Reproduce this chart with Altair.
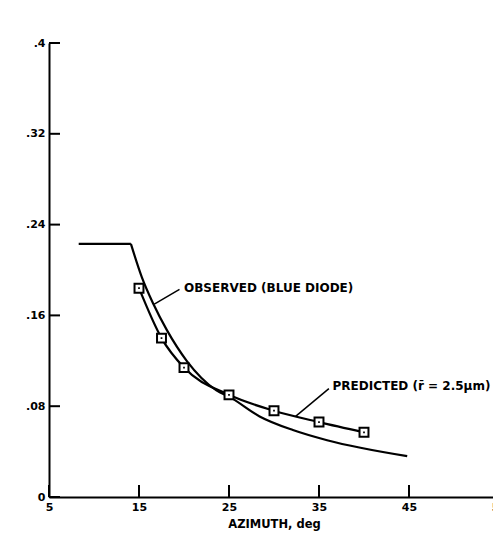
import altair as alt
import pandas as pd

# Observed (squares)
obs_x = [15, 17.5, 20, 25, 30, 35, 40]
obs_y = [0.184, 0.140, 0.114, 0.090, 0.076, 0.066, 0.057]

# Predicted curve
pred_flat_x = [8.3, 14.1]
pred_flat_y = [0.223, 0.223]
pred_x = [14.1, 15.3, 16.6, 18.1, 20.3, 23.6, 25.1, 28.4, 32.1, 35.9, 44.8]
pred_y = [0.223, 0.194, 0.170, 0.147, 0.120, 0.094, 0.088, 0.071, 0.059, 0.050, 0.036]

x_ticks = [5, 15, 25, 35, 45, 55]
y_ticks = [0, 0.08, 0.16, 0.24, 0.32, 0.4]

labels = ["OBSERVED (BLUE DIODE)", "PREDICTED (r\u0304 = 2.5\u03bcm)"]
label_x = [20.0, 36.5]
label_y = [0.184, 0.098]
leader_x = [16.7, 32.4]
leader_x2 = [19.5, 36.1]
leader_y = [0.170, 0.071]
leader_y2 = [0.183, 0.0955]

XR = 450          # pixel length of the 5..55 x range
W, H = 444, 454   # visible plot area (x range runs past the right edge, as in the scan)
FONT = "DejaVu Sans"

obs = pd.DataFrame({"x": obs_x, "y": obs_y})
pred = pd.DataFrame({
    "x": pred_flat_x + pred_x,
    "y": pred_flat_y + pred_y,
    "g": ["flat"] * len(pred_flat_x) + ["curve"] * len(pred_x),
})
lab = pd.DataFrame({"x": label_x, "y": label_y, "t": labels})
lead = pd.DataFrame({"x": leader_x, "x2": leader_x2, "y": leader_y, "y2": leader_y2})
xt = pd.DataFrame({"v": x_ticks})
yt = pd.DataFrame({"v": y_ticks})

xs = alt.Scale(domain=[5, 55], range=[0, XR], nice=False, zero=False)
ys = alt.Scale(domain=[0, 0.4], nice=False)

xax = alt.Axis(values=x_ticks, ticks=False, grid=False, domainColor="black", domainWidth=2,
               labelFont=FONT, labelFontWeight="bold", labelFontSize=11, labelColor="black",
               labelPadding=4, title="AZIMUTH, deg", titleFont=FONT, titleFontWeight="bold",
               titleFontSize=11.5, titleColor="black", titlePadding=6, labelFlush=False)
yax = alt.Axis(values=y_ticks, ticks=False, grid=False, domainColor="black", domainWidth=2,
               labelFont=FONT, labelFontWeight="bold", labelFontSize=11, labelColor="black",
               labelPadding=4, title=None, labelFlush=False,
               labelExpr="datum.value == 0 ? '0' : slice(format(datum.value, '.2~f'), 1)")

base_axes = alt.Chart(obs).mark_point(opacity=0).encode(
    x=alt.X("x:Q", scale=xs, axis=xax),
    y=alt.Y("y:Q", scale=ys, axis=yax),
)

pred_line = alt.Chart(pred).mark_line(color="black", strokeWidth=2.2, interpolate="monotone").encode(
    x=alt.X("x:Q", scale=xs), y=alt.Y("y:Q", scale=ys), detail="g:N"
)
obs_line = alt.Chart(obs).mark_line(color="black", strokeWidth=2.2, interpolate="monotone").encode(
    x=alt.X("x:Q", scale=xs), y=alt.Y("y:Q", scale=ys)
)
obs_pts = alt.Chart(obs).mark_point(shape="square", filled=True, fill="white", stroke="black",
                                    strokeWidth=2, size=80, opacity=1).encode(
    x=alt.X("x:Q", scale=xs), y=alt.Y("y:Q", scale=ys)
)
obs_dots = alt.Chart(obs).mark_point(shape="square", filled=True, color="black", size=3, opacity=1).encode(
    x=alt.X("x:Q", scale=xs), y=alt.Y("y:Q", scale=ys)
)

xtick = alt.Chart(xt).mark_rule(color="black", strokeWidth=2).encode(
    x=alt.X("v:Q", scale=xs), y=alt.value(H), y2=alt.value(H - 12)
)
ytick = alt.Chart(yt).mark_rule(color="black", strokeWidth=2).encode(
    y=alt.Y("v:Q", scale=ys), x=alt.value(0), x2=alt.value(11)
)

leaders = alt.Chart(lead).mark_rule(color="black", strokeWidth=1.5).encode(
    x=alt.X("x:Q", scale=xs), x2="x2:Q", y=alt.Y("y:Q", scale=ys), y2="y2:Q"
)
texts = alt.Chart(lab).mark_text(align="left", baseline="middle", font=FONT, fontWeight="bold",
                                 fontSize=12, color="black").encode(
    x=alt.X("x:Q", scale=xs), y=alt.Y("y:Q", scale=ys), text="t:N"
)

chart = alt.layer(base_axes, xtick, ytick, pred_line, obs_line, obs_pts, obs_dots, leaders, texts).properties(
    width=W, height=H,
    autosize=alt.AutoSizeParams(type="none"),
    padding={"left": 41, "top": 35, "right": 0, "bottom": 34},
).configure(background="white").configure_view(stroke=None)

chart.save("out.html", embed_options={"renderer": "svg", "actions": False})
